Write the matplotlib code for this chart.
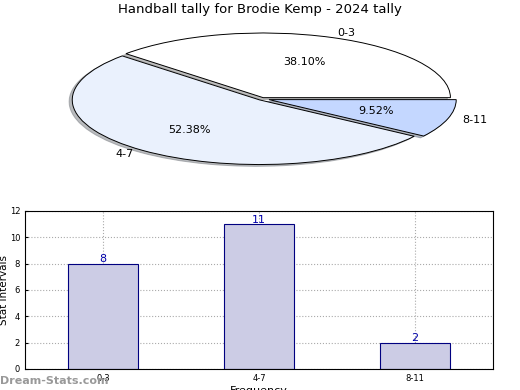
import matplotlib
matplotlib.use("Agg")
import matplotlib.pyplot as plt

title = "Handball tally for Brodie Kemp - 2024 tally"
categories = ["0-3", "4-7", "8-11"]
counts = [8, 11, 2]
pie_colors = ["#ffffff", "#eaf1fd", "#c4d7ff"]

fig = plt.figure(figsize=(5.2, 3.9), dpi=100)
fig.text(0.5, 0.975, title, ha="center", va="center", fontsize=9.5)

# Pie
axp = fig.add_axes([0.021, 0.526, 0.965, 0.441])
wedges, texts, autotexts = axp.pie(
    counts, labels=categories, colors=pie_colors, explode=[0.02, 0.02, 0.04],
    autopct="%.2f%%", pctdistance=0.6, labeldistance=1.08, startangle=0,
    shadow={"ox": -0.012, "oy": -0.02, "shade": 0.5},
    wedgeprops=dict(edgecolor="black", linewidth=0.7),
    textprops=dict(fontsize=8))
axp.set_aspect("auto")
axp.set_xlim(-1.34, 1.34)
axp.set_ylim(-1.33, 1.33)

# Bar chart
axb = fig.add_axes([0.048, 0.054, 0.9, 0.405])
x = list(range(len(categories)))
axb.bar(x, counts, width=0.45, color="#ccccE5", edgecolor="#000080", linewidth=0.8, zorder=2)
for xi, c in zip(x, counts):
    axb.annotate(str(c), (xi, c), xytext=(0, 3), textcoords="offset points",
                 ha="center", va="center", fontsize=8, color="#0000aa", zorder=3)
axb.set_xlim(-0.5, 2.5)
axb.set_ylim(0, 12)
axb.set_xticks(x)
axb.set_xticklabels(categories)
axb.set_yticks(range(0, 13, 2))
axb.tick_params(labelsize=6, length=2, direction="in")
axb.grid(True, linestyle=":", color="#aaaaaa", linewidth=0.8, zorder=0)
axb.set_ylabel("Stat Intervals", fontsize=7.5)
axb.yaxis.set_label_coords(-0.035, 0.5)
axb.set_xlabel("Frequency", fontsize=8, labelpad=2)

fig.text(0.0, 0.024, "Dream-Stats.com", fontsize=8, color="#999999", fontweight="bold", ha="left", va="center")

fig.savefig("out.png", dpi=100)
